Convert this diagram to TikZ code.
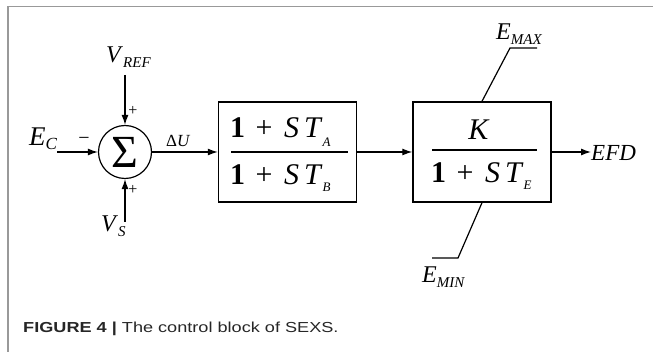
\documentclass[tikz,border=0pt]{standalone}
\usepackage{fontspec}
\setmainfont{Liberation Serif}
\newfontfamily\capfont[FakeStretch=1.25]{Liberation Sans}
\usetikzlibrary{arrows.meta}
\newcommand\fs[1]{\fontsize{#1}{#1}\selectfont}
% italic symbol with lowered subscript
\newcommand\sig[3][4.5pt]{\textit{#2}\raisebox{-#1}{\fs{15}\textit{#3}}}
\newcommand\lowsub[2][9pt]{\raisebox{-#1}{\fs{13}\textit{#2}}}

\tikzset{
  blk/.style={draw,line width=1.4pt,minimum width=138pt,minimum height=100pt,inner sep=0pt},
  lbl/.style={inner sep=0pt,anchor=base west,font=\fs{24}},
  sgn/.style={inner sep=0pt,font=\fs{16}},
  frac/.style={inner sep=0pt,anchor=base west,font=\fs{30}},
  sigline/.style={-{Latex[length=10pt,width=7pt]},line width=1.2pt},
}

\begin{document}
\begin{tikzpicture}[x=1pt,y=-1pt]
  \useasboundingbox (0,0) rectangle (653,352);
  \draw[black!40,line width=1.3pt] (8,352)--(8,6.5)--(653,6.5);

  % summing junction
  \node[draw,circle,line width=1.2pt,minimum size=53pt,inner sep=0pt,font=\fs{46}]
    (sum) at (125,152) {Σ};
  \node[lbl] (vref) at (106,63) {\sig{V}{REF}};
  \node[lbl] (vs) at (101,232) {\sig{V}{S}};
  \node[lbl,font=\fs{27}] (ec) at (29,146) {\textit{E}\raisebox{-4pt}{\fs{17}\textit{C}}};
  \coordinate (vrefin) at (125,75);
  \coordinate (vsin) at (125,222);
  \coordinate (ecin) at (57,152);
  \draw[sigline] (vrefin) -- (sum.north);
  \draw[sigline] (vsin) -- (sum.south);
  \draw[sigline] (ecin) -- (sum.west);
  \node[sgn] (p1) at (133,111) {+};
  \node[sgn] (p2) at (133,190) {+};
  \node[sgn,font=\fs{20}] (m1) at (84,141) {−};

  % lead-lag block
  \node[blk] (lead) at (287.5,152) {};
  \node[lbl,font=\fs{17}] (du) at (166,147) {Δ\textit{U}};
  \draw[sigline] (sum.east) -- (lead.west);
  \node[frac] (numa) at (230,138) {\textbf{1}\hspace{3pt} + \hspace{4pt}\textit{S\,T}\lowsub{A}};
  \node[frac] (dena) at (230,185) {\textbf{1}\hspace{3pt} + \hspace{4pt}\textit{S\,T}\lowsub[7pt]{B}};
  \draw[line width=1.8pt] (231,152) -- (348,152);

  % exciter block
  \node[blk] (exc) at (482,152) {};
  \draw[sigline] (lead.east) -- (exc.west);
  \node[frac,anchor=base] (numk) at (479,140) {\textit{K}};
  \node[frac] (dene) at (431,183) {\textbf{1}\hspace{3pt} + \hspace{4pt}\textit{S\,T}\lowsub[7pt]{E}};
  \draw[line width=1.8pt] (432,150) -- (537,150);

  % output
  \node[lbl,font=\fs{23}] (efd) at (591,161) {\textit{EFD}};
  \draw[sigline] (exc.east) -- (exc.east -| efd.west);

  % limits
  \node[lbl] (emax) at (496,40) {\sig{E}{MAX}};
  \node[lbl] (emin) at (422,283) {\sig{E}{MIN}};
  \coordinate (maxk) at (510,48);
  \coordinate (mink) at (458,258);
  \draw[line width=1.2pt] (exc.north) -- (maxk) -- ++(27,0);
  \draw[line width=1.2pt] (exc.south) -- (mink) -- ++(-26,0);

  \node[inner sep=0pt,anchor=base west,font=\capfont\fs{14.5},text=black!85] (cap) at (23,333)
    {\textbf{FIGURE 4 |} The control block of SEXS.};
\end{tikzpicture}
\end{document}
